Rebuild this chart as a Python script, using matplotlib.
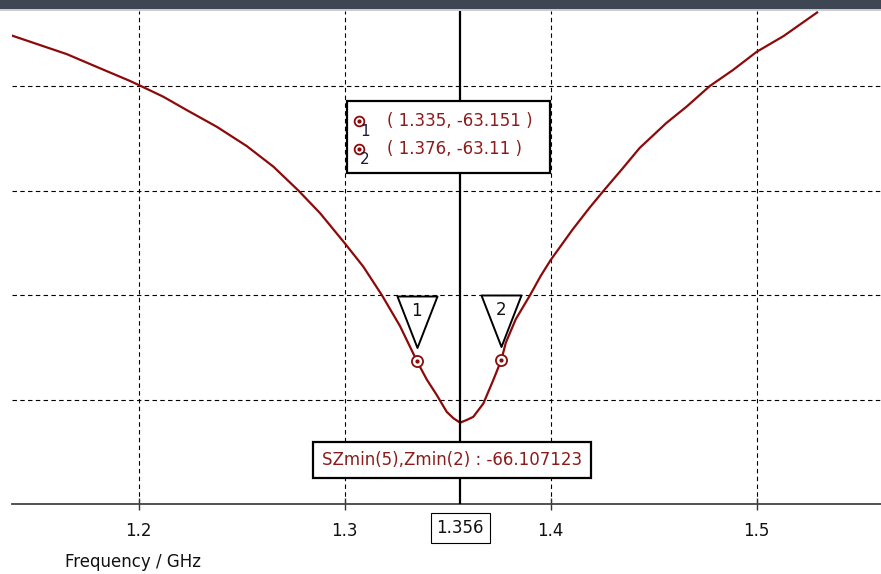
import matplotlib
matplotlib.use("Agg")
import matplotlib.pyplot as plt
from matplotlib.patches import Rectangle
from matplotlib.path import Path

# S-parameter curve
freq = [1.1386, 1.1650, 1.1812, 1.1956, 1.2, 1.2119, 1.2233, 1.2379, 1.2524, 1.2654,
        1.2775, 1.2880, 1.3, 1.3090, 1.3180, 1.3268, 1.335, 1.3398, 1.3447, 1.3495,
        1.3528, 1.356, 1.3592, 1.3624, 1.3673, 1.3721, 1.376, 1.3782, 1.3830, 1.39,
        1.3951, 1.4, 1.4105, 1.4187, 1.4260, 1.4350, 1.4431, 1.4561, 1.4659, 1.4772,
        1.4885, 1.5, 1.5130, 1.5293]
s_db = [-47.59, -48.47, -49.15, -49.75, -49.95, -50.51, -51.15, -51.95, -52.87, -53.86,
        -55.0, -56.08, -57.52, -58.64, -60.0, -61.48, -63.151, -64.04, -64.79, -65.59,
        -65.90, -66.107, -65.98, -65.83, -65.19, -64.07, -63.11, -62.28, -61.16, -60.0,
        -59.09, -58.32, -56.88, -55.84, -54.97, -53.93, -52.97, -51.77, -50.99, -50.0,
        -49.23, -48.36, -47.61, -46.48]

marker_f = [1.335, 1.376]
marker_v = [-63.151, -63.11]
marker_ids = ["1", "2"]
readouts = ["( 1.335, -63.151 )", "( 1.376, -63.11 )"]

min_f = 1.356
min_v = -66.107123
min_label = "SZmin(5),Zmin(2) : -66.107123"

xticks = [1.2, 1.3, 1.4, 1.5]
yticks = [-70, -65, -60, -55, -50]

curve_col = "#8c0a0a"
text_col = "#8b1c1c"

fig = plt.figure(figsize=(8.81, 5.74), dpi=100)
fig.patch.set_facecolor("white")
ax = fig.add_axes([12 / 881, 70 / 574, 869 / 881, 493 / 574])

# window title strip at the very top
fig.patches.append(Rectangle((0, 1 - 9 / 574), 1, 9 / 574, transform=fig.transFigure,
                             facecolor="#3d4652", edgecolor="none"))
fig.patches.append(Rectangle((0, 1 - 10.5 / 574), 1, 1.5 / 574, transform=fig.transFigure,
                             facecolor="#c9cdd2", edgecolor="none"))

ax.plot(freq, s_db, color=curve_col, lw=1.6, zorder=3)

ax.set_xlim(1.1385, 1.5603)
ax.set_ylim(-70, -46.41)
ax.set_xticks(xticks)
ax.set_xticklabels([str(t) for t in xticks])
ax.set_yticks(yticks)
ax.tick_params(axis="y", left=False, labelleft=False)
ax.tick_params(axis="x", direction="inout", length=8, width=1, color="#333333",
               labelsize=12, pad=9, labelcolor="#111111")
for side in ["left", "right", "top"]:
    ax.spines[side].set_visible(False)
ax.spines["bottom"].set_color("#444444")
ax.spines["bottom"].set_linewidth(1.3)
ax.grid(True, color="black", lw=0.8, linestyle=(0, (4, 3)))
ax.set_axisbelow(True)

# vertical marker line at the minimum
ax.axvline(min_f, color="black", lw=1.6, zorder=4)
ax.annotate("1.356", xy=(min_f, 0), xycoords=("data", "axes fraction"),
            xytext=(0, -17.5), textcoords="offset points", ha="center", va="center",
            fontsize=12, color="#111111",
            bbox=dict(boxstyle="square,pad=0.35", fc="white", ec="black", lw=0.8),
            annotation_clip=False)

# minimum readout box
ax.annotate(min_label, xy=(min_f, min_v), xytext=(-6, -27), textcoords="offset points",
            ha="center", va="center", fontsize=12, color=text_col, zorder=6,
            bbox=dict(boxstyle="square,pad=0.55", fc="white", ec="black", lw=1.6))

# curve markers with flag triangles
tri = Path([(0, 13.5), (-20, 65), (20, 65), (0, 13.5)],
           [Path.MOVETO, Path.LINETO, Path.LINETO, Path.CLOSEPOLY])
ax.plot(marker_f, marker_v, linestyle="none", marker=tri, markersize=93.6,
        markerfacecolor="white", markeredgecolor="black", markeredgewidth=1.4, zorder=5)
ax.plot(marker_f, marker_v, linestyle="none", marker="o", markersize=8,
        markerfacecolor="white", markeredgecolor=curve_col, markeredgewidth=1.3, zorder=6)
ax.plot(marker_f, marker_v, linestyle="none", marker="o", markersize=2,
        color=curve_col, zorder=7)
for f, v, n in zip(marker_f, marker_v, marker_ids):
    ax.annotate(n, xy=(f, v), xytext=(0, 36), textcoords="offset points",
                ha="center", va="center", fontsize=12, color="#111111", zorder=6)

# marker list box
ax.add_patch(Rectangle((0.3852, 0.6708), 0.2339, 0.1473, transform=ax.transAxes,
                       facecolor="white", edgecolor="black", lw=1.6, zorder=6))
row_y = [0.7769, 0.7201]
for i in range(len(readouts)):
    ax.plot([0.3993], [row_y[i]], transform=ax.transAxes, linestyle="none", marker="o",
            markersize=7, markerfacecolor="white", markeredgecolor=curve_col,
            markeredgewidth=1.3, zorder=7)
    ax.plot([0.3993], [row_y[i]], transform=ax.transAxes, linestyle="none", marker="o",
            markersize=2, color=curve_col, zorder=8)
    ax.text(0.4062, row_y[i] - 0.021, marker_ids[i], transform=ax.transAxes,
            ha="center", va="center", fontsize=11, color="#1a1a3a", zorder=8)
    ax.text(0.4315, row_y[i], readouts[i], transform=ax.transAxes,
            ha="left", va="center", fontsize=12, color=text_col, zorder=8)

fig.text(65 / 881, 1 - 562 / 574, "Frequency / GHz", ha="left", va="center",
         fontsize=12, color="#111111")

fig.savefig("out.png", dpi=100)
